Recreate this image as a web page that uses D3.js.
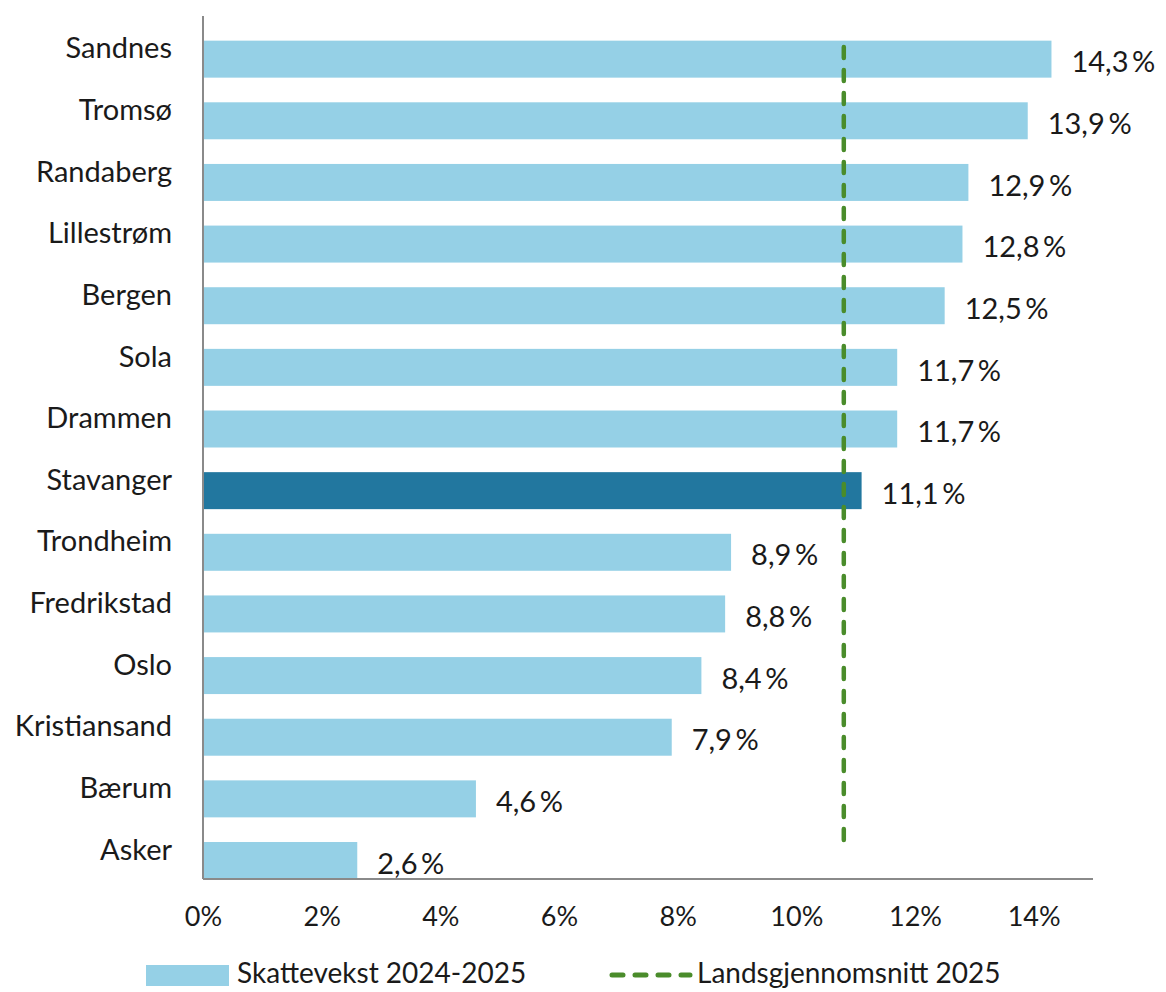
<!DOCTYPE html>
<html>
<head>
<meta charset="utf-8">
<script src="https://cdn.jsdelivr.net/npm/d3@7"></script>
<style>
  body { margin: 0; background: #fff; }
  text { font-family: Lato, "Open Sans", sans-serif; fill: #1a1a1a; }
</style>
</head>
<body>
<div id="chart"></div>
<script>
var width = 1166, height = 992;

// data
var kommuner = ['Sandnes', 'Tromsø', 'Randaberg', 'Lillestrøm', 'Bergen', 'Sola', 'Drammen',
  'Stavanger', 'Trondheim', 'Fredrikstad', 'Oslo', 'Kristiansand', 'Bærum', 'Asker'];
var vekst = [14.3, 13.9, 12.9, 12.8, 12.5, 11.7, 11.7, 11.1, 8.9, 8.8, 8.4, 7.9, 4.6, 2.6];
var snitt = 10.8;
var xTicks = [0, 2, 4, 6, 8, 10, 12, 14];
var highlight = 'Stavanger';
var legendLabels = ['Skattevekst 2024-2025', 'Landsgjennomsnitt 2025'];

var margin = {top: 16, right: 73, bottom: 113, left: 203};

var svg = d3.select('#chart').append('svg')
  .attr('width', width)
  .attr('height', height);

var x = d3.scaleLinear()
  .domain([0, 15])
  .range([margin.left, width - margin.right]);

var y = d3.scaleBand()
  .domain(kommuner)
  .range([margin.top, height - margin.bottom])
  .paddingInner(0.4)
  .paddingOuter(0.2)
  .align(1);

var data = kommuner.map(function(k, i) { return {name: k, value: vekst[i]}; });

// bars
svg.append('g')
  .selectAll('rect')
  .data(data)
  .enter()
  .append('rect')
  .attr('x', x(0))
  .attr('y', d => y(d.name))
  .attr('width', d => x(d.value) - x(0))
  .attr('height', y.bandwidth())
  .attr('fill', d => d.name === highlight ? '#22779f' : '#95d0e6');

// value labels
svg.append('g')
  .selectAll('text')
  .data(data)
  .enter()
  .append('text')
  .attr('x', d => x(d.value) + 20)
  .attr('y', d => y(d.name) + y.bandwidth() / 2 + 3)
  .attr('dy', '0.35em')
  .style('font-size', '29px')
  .text(d => d3.format('.1f')(d.value).replace('.', ',') + '\u2009%');

// category labels (sit a bit above bar centre, like the original)
svg.append('g')
  .selectAll('text')
  .data(data)
  .enter()
  .append('text')
  .attr('x', 172)
  .attr('y', d => y(d.name) + y.bandwidth() / 2 - 11)
  .attr('dy', '0.35em')
  .attr('text-anchor', 'end')
  .style('font-size', '29px')
  .text(d => d.name);

// average line
svg.append('line')
  .attr('x1', x(snitt))
  .attr('x2', x(snitt))
  .attr('y1', 47)
  .attr('y2', 851)
  .attr('stroke', '#4a8c2b')
  .attr('stroke-width', 4.5)
  .attr('stroke-linecap', 'round')
  .attr('stroke-dasharray', '11 12');

// axes
var yAxisX = x(0);
svg.append('line')
  .attr('x1', yAxisX).attr('x2', yAxisX)
  .attr('y1', margin.top).attr('y2', height - margin.bottom)
  .attr('stroke', '#8a8a8a').attr('stroke-width', 2);

var xAxis = svg.append('g')
  .attr('transform', 'translate(0,' + (height - margin.bottom) + ')')
  .call(d3.axisBottom(x).tickValues(xTicks).tickSize(0).tickPadding(28)
    .tickFormat(d => d + '%'));
xAxis.select('.domain').attr('stroke', '#8a8a8a').attr('stroke-width', 2)
  .attr('d', 'M' + x(0) + ',0H' + (width - margin.right));
xAxis.selectAll('text')
  .style('font-size', '27px')
  .style('font-family', 'Lato, "Open Sans", sans-serif')
  .attr('fill', '#1a1a1a');

// legend
var legY = 975;
var leg = svg.append('g');
leg.append('rect')
  .attr('x', 146).attr('y', legY - 10)
  .attr('width', 83).attr('height', 21)
  .attr('fill', '#95d0e6');
leg.append('text')
  .attr('x', 237).attr('y', legY).attr('dy', '0.3em')
  .style('font-size', '28px')
  .text(legendLabels[0]);
leg.append('line')
  .attr('x1', 612).attr('x2', 690)
  .attr('y1', legY).attr('y2', legY)
  .attr('stroke', '#4a8c2b')
  .attr('stroke-width', 5)
  .attr('stroke-linecap', 'round')
  .attr('stroke-dasharray', '11 12');
leg.append('text')
  .attr('x', 697).attr('y', legY).attr('dy', '0.3em')
  .style('font-size', '28px')
  .text(legendLabels[1]);
</script>
</body>
</html>
